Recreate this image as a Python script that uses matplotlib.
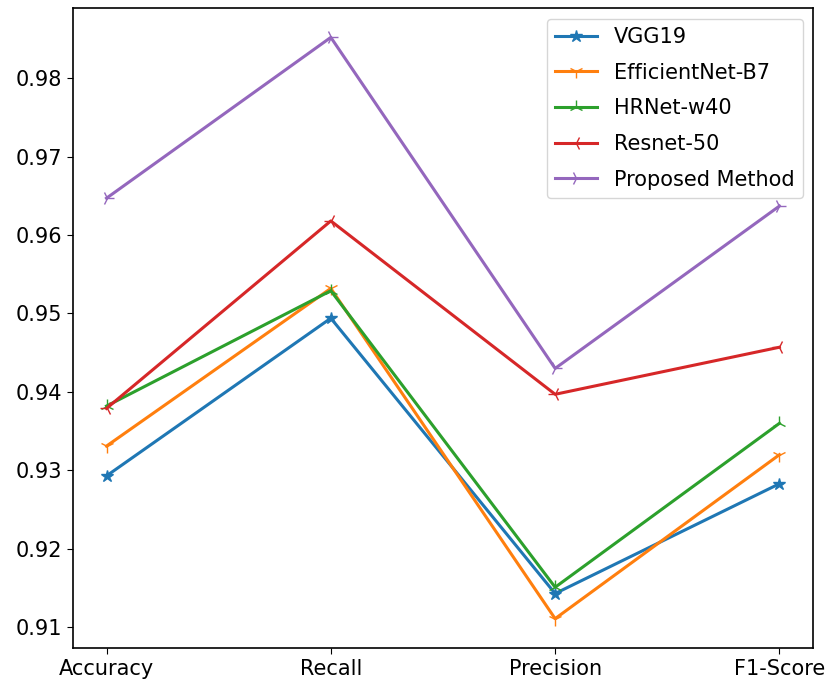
import matplotlib
matplotlib.use("Agg")
import matplotlib.pyplot as plt

metrics = ["Accuracy", "Recall", "Precision", "F1-Score"]

vgg19 = [0.9293, 0.9494, 0.9143, 0.9283]
efficientnet_b7 = [0.9331, 0.9532, 0.9111, 0.9320]
hrnet_w40 = [0.9382, 0.9529, 0.9151, 0.9360]
resnet50 = [0.9379, 0.9618, 0.9397, 0.9457]
proposed = [0.9647, 0.9852, 0.9430, 0.9637]

plt.rcParams["font.size"] = 15
plt.rcParams["axes.linewidth"] = 1.2
plt.rcParams["xtick.major.size"] = 4.5
plt.rcParams["ytick.major.size"] = 4.5

fig = plt.figure(figsize=(8.28, 6.92), dpi=100)
ax = fig.add_axes([0.088, 0.064, 0.894, 0.924])

ax.plot(metrics, vgg19, marker="*", markersize=9, linewidth=2.2, label="VGG19")
ax.plot(metrics, efficientnet_b7, marker="1", markersize=10, linewidth=2.2, label="EfficientNet-B7")
ax.plot(metrics, hrnet_w40, marker="2", markersize=10, linewidth=2.2, label="HRNet-w40")
ax.plot(metrics, resnet50, marker="3", markersize=10, linewidth=2.2, label="Resnet-50")
ax.plot(metrics, proposed, marker="4", markersize=10, linewidth=2.2, label="Proposed Method")

ax.set_yticks([0.91, 0.92, 0.93, 0.94, 0.95, 0.96, 0.97, 0.98])
ax.legend(loc="upper right", labelspacing=0.75)

plt.savefig("out.png")
